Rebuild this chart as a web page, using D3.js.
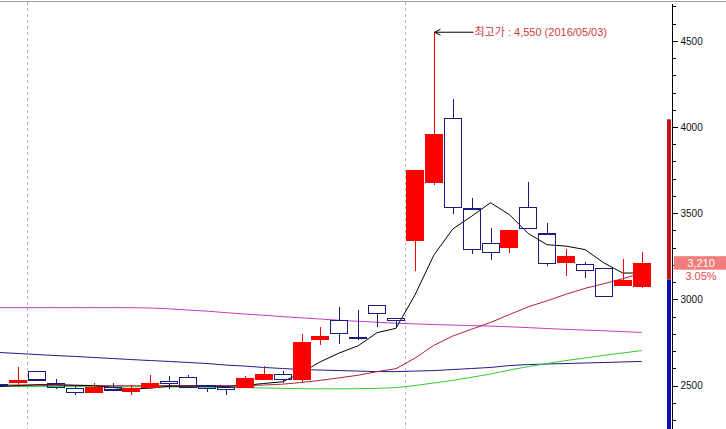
<!DOCTYPE html>
<html>
<head>
<meta charset="utf-8">
<script src="https://cdn.jsdelivr.net/npm/d3@7/dist/d3.min.js"></script>
<style>
  html, body { margin: 0; padding: 0; background: #fff; }
  svg { display: block; }
  text { font-family: "Liberation Sans", Arial, "Noto Sans CJK KR", sans-serif; }
</style>
</head>
<body>
<script>
// ---------- data ----------
const dates = ["2016/03/30","2016/03/31",
  "2016/04/01","2016/04/04","2016/04/05","2016/04/06","2016/04/07","2016/04/08","2016/04/11","2016/04/12","2016/04/14","2016/04/15",
  "2016/04/18","2016/04/19","2016/04/20","2016/04/21","2016/04/22","2016/04/25","2016/04/26","2016/04/27","2016/04/28","2016/04/29",
  "2016/05/02","2016/05/03","2016/05/04","2016/05/09","2016/05/10","2016/05/11","2016/05/12","2016/05/13","2016/05/16","2016/05/17",
  "2016/05/18","2016/05/19","2016/05/20"];
const opens  = [2505,2515,2583,2513,2481,2458,2490,2462,2485,2525,2545,2497,2487,2485,2535,2566,2535,2767,2877,2778,2965,2888,3340,3677,4050,3524,3325,3300,3534,3379,3209,3204,3180,3080,3070];
const highs  = [2512,2610,2585,2540,2504,2516,2513,2504,2562,2558,2562,2497,2500,2558,2612,2587,2797,2838,2955,2941,2965,2888,3750,4550,4161,3586,3416,3403,3679,3441,3292,3219,3183,3234,3277];
const lows   = [2497,2490,2525,2480,2446,2454,2475,2446,2483,2481,2488,2462,2446,2485,2535,2512,2519,2736,2740,2762,2839,2839,3165,3663,3496,3263,3229,3267,3412,3194,3138,3122,3018,3080,3065];
const closes = [2500,2533,2533,2488,2458,2490,2475,2487,2516,2514,2488,2481,2477,2545,2568,2537,2750,2788,2803,2775,2917,2878,3750,3959,3534,3291,3271,3403,3412,3209,3252,3169,3018,3115,3210];

const ma5   = [2495,2500,2505,2505,2502,2500,2489,2480,2485,2496,2496,2497,2495,2501,2512,2522,2575,2638,2689,2731,2807,2832,3025,3256,3408,3482,3561,3492,3382,3317,3309,3289,3212,3153,3153];
const ma20  = [2503,2503,2502,2502,2501,2500,2499,2499,2499,2500,2500,2500,2499,2500,2503,2508,2518,2530,2545,2560,2581,2598,2659,2733,2787,2827,2866,2912,2957,2992,3030,3064,3091,3120,3152];
const ma60  = [2495,2495,2495,2495,2495,2494,2494,2493,2493,2492,2491,2490,2489,2488,2486,2484,2482,2481,2481,2482,2484,2488,2500,2515,2530,2548,2567,2590,2610,2628,2645,2660,2675,2689,2703];
const ma120 = [2692,2686,2680,2674,2669,2663,2657,2651,2645,2640,2634,2628,2619,2613,2605,2599,2593,2590,2587,2584,2581,2581,2584,2587,2593,2599,2605,2616,2622,2625,2628,2631,2634,2637,2640];
const ma240 = [2952,2952,2952,2952,2952,2952,2952,2952,2950,2945,2938,2932,2923,2915,2908,2900,2893,2886,2879,2873,2867,2862,2858,2854,2851,2848,2845,2841,2836,2831,2826,2822,2818,2813,2808];

const majorTicks = [2500, 3000, 3500, 4000, 4500];
const minorTicks = [2300,2400,2500,2600,2700,2800,2900,3000,3100,3200,3300,3400,3500,3600,3700,3800,3900,4000,4100,4200,4300,4400,4500,4600,4700];
const barTopValue = 4045;           // top of the red range bar on the axis
const highLabel = "최고가";

// ---------- layout ----------
const W = 726, H = 429;
const axisX = 672;
const UP = "#ff0000", DOWN = "#1a1a82";

const svg = d3.select("body").append("svg").attr("width", W).attr("height", H);

const y = d3.scaleLinear().domain([2248, 4737]).range([H, 0]);
const x = d3.scaleBand().domain(dates).range([-10.8, 651.6]).padding(0.05);
const cx = d => x(d) + x.bandwidth() / 2;

const data = dates.map((d, i) => ({date: d, o: opens[i], h: highs[i], l: lows[i], c: closes[i]}));

// frame top line
svg.append("line").attr("x1", 0).attr("x2", W).attr("y1", 1.5).attr("y2", 1.5)
  .attr("stroke", "#a0a0a0").attr("stroke-width", 1);

// month separators (dashed)
const sepG = svg.append("g");
for (let i = 1; i < dates.length; i++) {
  if (dates[i].slice(0, 7) !== dates[i - 1].slice(0, 7)) {
    const sx = Math.round((cx(dates[i]) + cx(dates[i - 1])) / 2) + 0.5;
    sepG.append("line").attr("x1", sx).attr("x2", sx).attr("y1", 2).attr("y2", H)
      .attr("stroke", "#b8b8b8").attr("stroke-dasharray", "3,3");
  }
}

// moving averages
const maSeries = [
  {vals: ma240, color: "#c23cc8"},
  {vals: ma120, color: "#1c1c8a"},
  {vals: ma60,  color: "#33cc33"},
  {vals: ma20,  color: "#b0203a"},
  {vals: ma5,   color: "#000000"}
];
const lineGen = d3.line().x((v, i) => cx(dates[i])).y(v => y(v));
maSeries.forEach(s => {
  svg.append("path").attr("d", lineGen(s.vals)).attr("fill", "none")
    .attr("stroke", s.color).attr("stroke-width", 1);
});

// candles
const cg = svg.append("g").attr("shape-rendering", "crispEdges");
const bw = Math.round(x.bandwidth());
data.forEach(d => {
  const xl = Math.round(x(d.date));
  const xc = xl + Math.floor(bw / 2) + 0.5;
  if (d.c >= d.o) {
    cg.append("line").attr("x1", xc).attr("x2", xc).attr("y1", y(d.h)).attr("y2", y(d.l))
      .attr("stroke", UP).attr("stroke-width", 1);
    const top = y(d.c), bot = y(d.o);
    cg.append("rect").attr("x", xl).attr("y", top).attr("width", bw)
      .attr("height", Math.max(1.5, bot - top)).attr("fill", UP);
  } else {
    const top = y(d.o), bot = y(d.c);
    cg.append("line").attr("x1", xc).attr("x2", xc).attr("y1", y(d.h)).attr("y2", top)
      .attr("stroke", DOWN).attr("stroke-width", 1);
    cg.append("line").attr("x1", xc).attr("x2", xc).attr("y1", bot).attr("y2", y(d.l))
      .attr("stroke", DOWN).attr("stroke-width", 1);
    cg.append("rect").attr("x", xl + 0.5).attr("y", top).attr("width", bw - 1)
      .attr("height", Math.max(0.5, bot - top)).attr("fill", "none")
      .attr("stroke", DOWN).attr("stroke-width", 1.3);
  }
});

// highest price annotation
const hi = d3.maxIndex(highs);
const hx = Math.round(x(dates[hi])) + Math.floor(bw / 2) + 0.5;
const hy = y(highs[hi]);
const ag = svg.append("g");
ag.append("line").attr("x1", hx).attr("x2", hx + 39).attr("y1", hy).attr("y2", hy)
  .attr("stroke", "#000").attr("stroke-width", 1);
ag.append("path").attr("d", `M${hx + 6},${hy - 3} L${hx},${hy} L${hx + 6},${hy + 3}`)
  .attr("fill", "none").attr("stroke", "#000").attr("stroke-width", 1);
ag.append("text").attr("x", hx + 40).attr("y", hy + 4)
  .attr("font-size", 11).attr("fill", "#d43a3a")
  .text(`${highLabel} : ${d3.format(",")(highs[hi])} (${dates[hi]})`);

// range bar on the axis
const prevClose = closes[closes.length - 2];
const lastClose = closes[closes.length - 1];
svg.append("rect").attr("x", axisX - 5).attr("width", 4)
  .attr("y", y(barTopValue)).attr("height", y(prevClose) - y(barTopValue)).attr("fill", "#c8141a");
svg.append("rect").attr("x", axisX - 5).attr("width", 4)
  .attr("y", y(prevClose)).attr("height", H - y(prevClose)).attr("fill", "#0c0cb0");

// right axis
const axG = svg.append("g").attr("transform", `translate(${axisX + 0.5},0)`);
const minorAx = axG.append("g").call(d3.axisRight(y).tickValues(minorTicks).tickSize(3).tickFormat(""));
const majorAx = axG.append("g").call(d3.axisRight(y).tickValues(majorTicks).tickSize(5).tickPadding(3).tickFormat(d3.format("d")));
axG.selectAll(".domain").remove();
axG.selectAll(".tick line").attr("stroke", "#000").attr("shape-rendering", "crispEdges");
majorAx.selectAll("text").attr("font-size", 10).attr("fill", "#111")
  .style("font-family", '"Liberation Sans", Arial, sans-serif');
axG.append("line").attr("x1", 0).attr("x2", 0).attr("y1", 4).attr("y2", H)
  .attr("stroke", "#000").attr("shape-rendering", "crispEdges");

// last price box
const ly = y(lastClose);
svg.append("rect").attr("x", axisX + 2).attr("y", ly - 7).attr("width", W - axisX - 2).attr("height", 13.5)
  .attr("fill", "#f27c7c");
svg.append("text").attr("x", 701).attr("y", ly + 4).attr("text-anchor", "middle")
  .attr("font-size", 11).attr("fill", "#fff").text(d3.format(",")(lastClose));
svg.append("text").attr("x", 701).attr("y", ly + 17).attr("text-anchor", "middle")
  .attr("font-size", 11).attr("fill", "#e04a4a")
  .text(d3.format(".2f")((lastClose - prevClose) / prevClose * 100) + "%");
</script>
</body>
</html>
